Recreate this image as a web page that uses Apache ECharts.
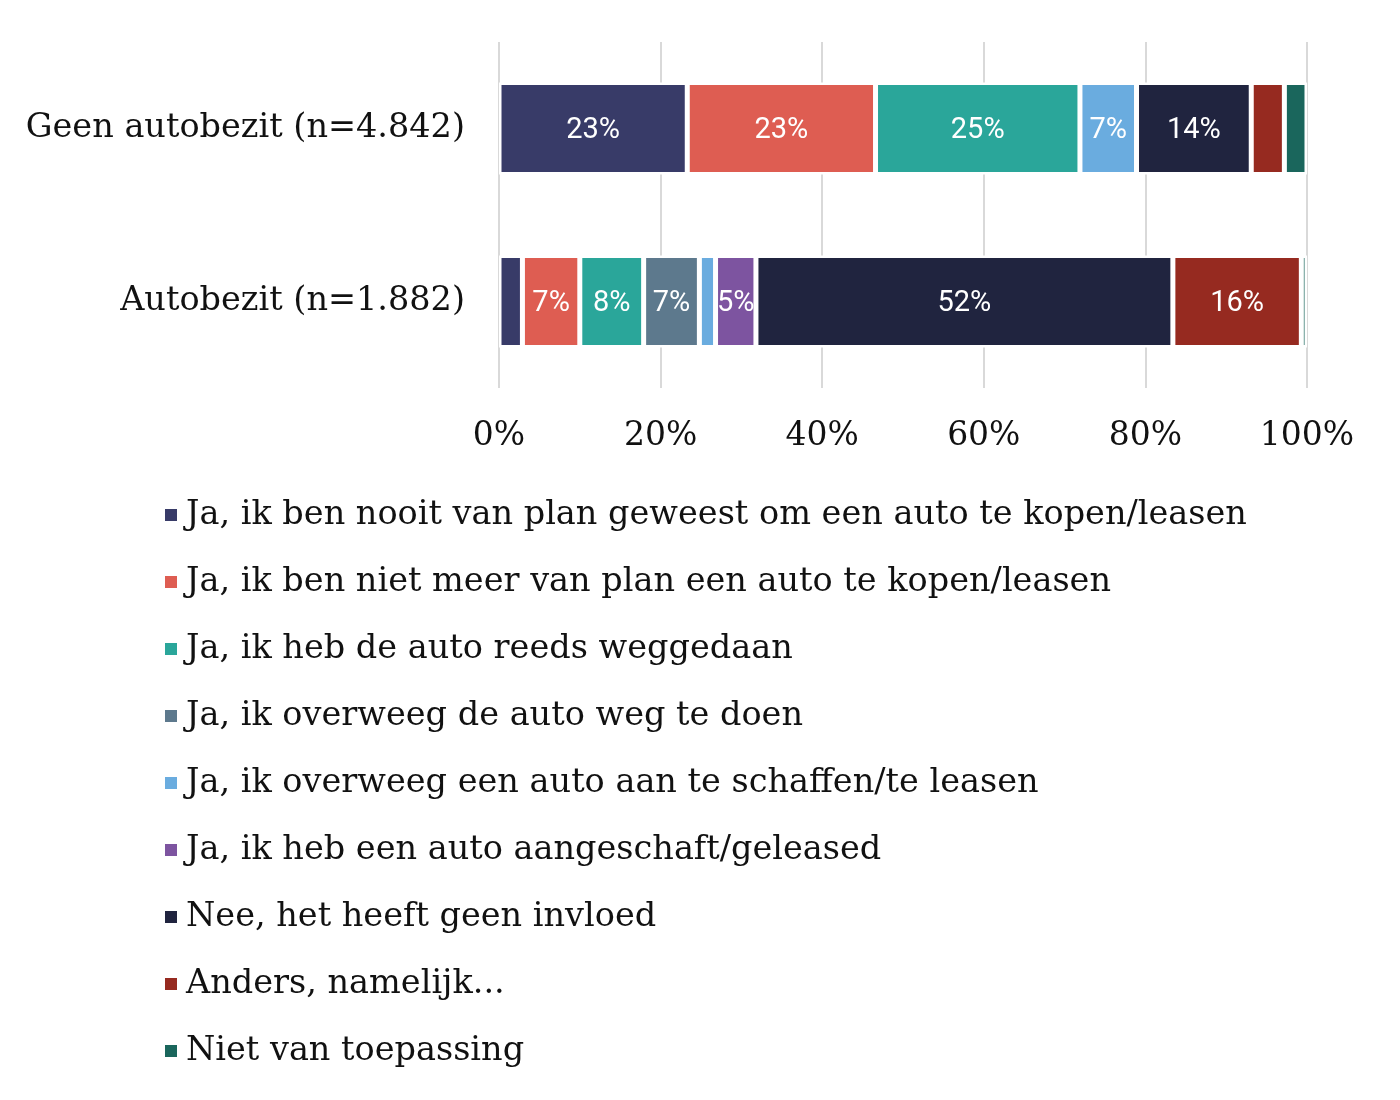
<!DOCTYPE html>
<html>
<head>
<meta charset="utf-8">
<script src="https://cdn.jsdelivr.net/npm/echarts@6/dist/echarts.min.js"></script>
<style>html,body{margin:0;padding:0;background:#fff;}#c{width:1400px;height:1100px;}</style>
</head>
<body>
<div id="c"></div>
<script>
const categories = ['Geen autobezit (n=4.842)', 'Autobezit (n=1.882)'];
const seriesNames = [
  'Ja, ik ben nooit van plan geweest om een auto te kopen/leasen',
  'Ja, ik ben niet meer van plan een auto te kopen/leasen',
  'Ja, ik heb de auto reeds weggedaan',
  'Ja, ik overweeg de auto weg te doen',
  'Ja, ik overweeg een auto aan te schaffen/te leasen',
  'Ja, ik heb een auto aangeschaft/geleased',
  'Nee, het heeft geen invloed',
  'Anders, namelijk...',
  'Niet van toepassing'
];
const nooitPlan   = [23.3, 2.9];
const nietMeer    = [23.3, 7.1];
const weggedaan   = [25.3, 7.9];
const overweegWeg = [0, 6.9];
const overweegAan = [7.0, 2.0];
const aangeschaft = [0, 5.0];
const geenInvloed = [14.2, 51.6];
const anders      = [4.1, 15.9];
const nvt         = [2.8, 0.7];
const seriesValues = [nooitPlan, nietMeer, weggedaan, overweegWeg, overweegAan, aangeschaft, geenInvloed, anders, nvt];
const xTicks = [0, 20, 40, 60, 80, 100];
const colors = ['#383B68', '#DE5D52', '#2AA69A', '#5D798D', '#6AACDF', '#7D54A0', '#20243F', '#962A20', '#1A665C'];

const serif = "'DejaVu Serif', 'Liberation Serif', serif";
const chart = echarts.init(document.getElementById('c'));
chart.setOption({
  animation: false,
  color: colors,
  grid: { left: 499, right: 93, top: 42, height: 346, containLabel: false },
  xAxis: {
    type: 'value', min: 0, max: 100, interval: 20,
    axisLine: { show: false }, axisTick: { show: false },
    splitLine: { show: true, lineStyle: { color: '#d9d9d9', width: 2 } },
    axisLabel: {
      margin: 32, color: '#111', fontFamily: serif, fontSize: 33,
      formatter: v => xTicks.includes(v) ? v + '%' : ''
    }
  },
  yAxis: {
    type: 'category', data: categories, inverse: true,
    axisLine: { show: false }, axisTick: { show: false },
    axisLabel: { margin: 34, color: '#111', fontFamily: serif, fontSize: 33.5 }
  },
  legend: {
    orient: 'vertical', left: 158, top: 488,
    icon: 'rect', itemWidth: 14, itemHeight: 14, itemGap: 23,
    data: seriesNames,
    textStyle: { fontFamily: serif, fontSize: 33.5, color: '#111', lineHeight: 44, padding: [0, 0, 0, 3] }
  },
  series: seriesNames.map((name, i) => ({
    name, type: 'bar', stack: 'total', barWidth: 92,
    data: seriesValues[i],
    itemStyle: { borderColor: '#fff', borderWidth: 2.5 },
    label: {
      show: true, position: 'inside', color: '#fff',
      fontFamily: 'Roboto', fontSize: 29, offset: [0, 2],
      formatter: p => p.value >= 4.5 ? Math.round(p.value) + '%' : ''
    }
  }))
});
</script>
</body>
</html>
